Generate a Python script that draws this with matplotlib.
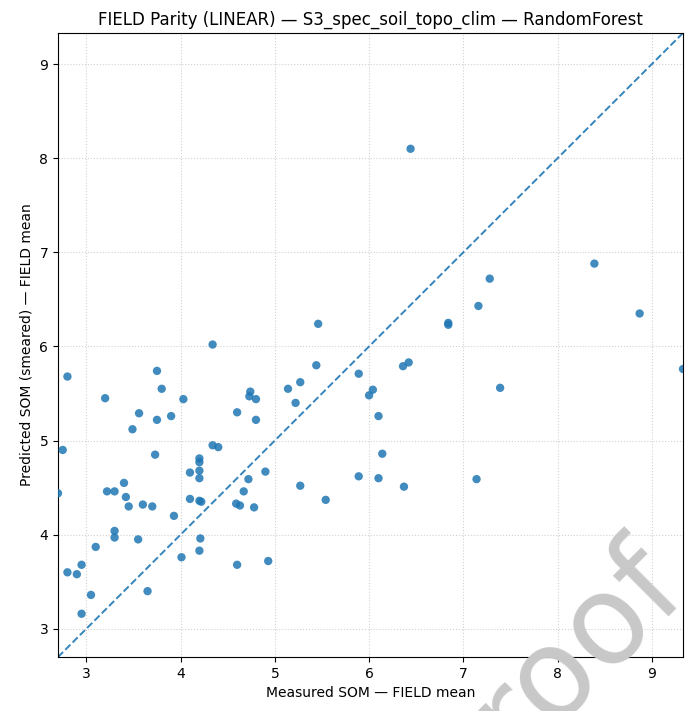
import matplotlib
matplotlib.use("Agg")
import matplotlib.pyplot as plt
import numpy as np

title = "FIELD Parity (LINEAR) — S3_spec_soil_topo_clim — RandomForest"
xlabel = "Measured SOM — FIELD mean"
ylabel = "Predicted SOM (smeared) — FIELD mean"

measured = [2.70, 2.75, 2.80, 2.80, 2.90, 2.95, 2.95, 3.05, 3.10, 3.20,
            3.22, 3.30, 3.30, 3.30, 3.40, 3.42, 3.45, 3.49, 3.55, 3.56,
            3.60, 3.65, 3.70, 3.73, 3.75, 3.75, 3.80, 3.90, 3.93, 4.01,
            4.03, 4.10, 4.10, 4.20, 4.20, 4.20, 4.20, 4.20, 4.22, 4.21,
            4.20, 4.34, 4.34, 4.40, 4.59, 4.63, 4.60, 4.60, 4.67, 4.72,
            4.74, 4.73, 4.80, 4.80, 4.78, 4.90, 4.93, 5.14, 5.22, 5.27,
            5.27, 5.44, 5.46, 5.54, 5.89, 5.89, 6.00, 6.04, 6.10, 6.10,
            6.14, 6.36, 6.42, 6.37, 6.44, 6.84, 6.84, 7.14, 7.16, 7.28,
            7.39, 8.39, 8.87, 9.33]
predicted = [4.44, 4.90, 5.68, 3.60, 3.58, 3.68, 3.16, 3.36, 3.87, 5.45,
             4.46, 4.46, 4.04, 3.97, 4.55, 4.40, 4.30, 5.12, 3.95, 5.29,
             4.32, 3.40, 4.30, 4.85, 5.74, 5.22, 5.55, 5.26, 4.20, 3.76,
             5.44, 4.66, 4.38, 4.81, 4.77, 4.68, 4.60, 4.36, 4.35, 3.96,
             3.83, 6.02, 4.95, 4.93, 4.33, 4.31, 5.30, 3.68, 4.46, 4.59,
             5.52, 5.47, 5.44, 5.22, 4.29, 4.67, 3.72, 5.55, 5.40, 5.62,
             4.52, 5.80, 6.24, 4.37, 5.71, 4.62, 5.48, 5.54, 5.26, 4.60,
             4.86, 5.79, 5.83, 4.51, 8.10, 6.25, 6.23, 4.59, 6.43, 6.72,
             5.56, 6.88, 6.35, 5.76]
ticks = [3, 4, 5, 6, 7, 8, 9]
watermark = "Proof"

x = np.array(measured)
y = np.array(predicted)
lo = min(x.min(), y.min())
hi = max(x.max(), y.max())

fig = plt.figure(figsize=(6.98, 7.11), dpi=100)
ax = fig.add_axes([0.0831, 0.0759, 0.8954, 0.8777])
ax.scatter(x, y, s=36, color="#1f77b4", alpha=0.85, edgecolors="none", zorder=3)
ax.plot([lo, hi], [lo, hi], linestyle="--", color="#1f77b4", lw=1.4, alpha=0.9, zorder=2)
ax.set_xlim(lo, hi)
ax.set_ylim(lo, hi)
ax.set_xticks(ticks)
ax.set_yticks(ticks)
ax.grid(True, linestyle=":", color="#cccccc", linewidth=0.8, alpha=0.9)
ax.set_axisbelow(True)
ax.set_title(title, fontsize=12)
ax.set_xlabel(xlabel, fontsize=10)
ax.set_ylabel(ylabel, fontsize=10)
ax.tick_params(labelsize=10)

fig.text(464 / 698, 1 - 809 / 711, watermark, fontsize=89, color="#c8c8c8",
         rotation=45, ha="left", va="baseline", rotation_mode="anchor", zorder=10)

fig.savefig("out.png", dpi=100)
